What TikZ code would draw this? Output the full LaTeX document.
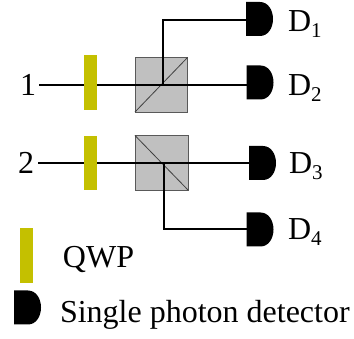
\documentclass[tikz,border=0pt]{standalone}
\usepackage{fontspec}
\setmainfont{Liberation Serif}
\definecolor{qwpc}{RGB}{196,192,0}
\definecolor{cubec}{RGB}{192,192,192}
\tikzset{
 every node/.style={inner sep=0pt,outer sep=0pt},
 lbl/.style={anchor=base west,font=\fontsize{32}{32}\selectfont},
 sub/.style={anchor=base west,font=\fontsize{21}{21}\selectfont},
 beam/.style={draw=black,line width=2pt},
 qwp/.style={fill=qwpc,draw=none},
 cube/.style={fill=cubec,draw=black!65,line width=0.8pt},
 diag/.style={draw=black!75,line width=0.8pt},
}
\newcommand{\detector}[2]{% left x, top y
 \begin{scope}[shift={(#1,#2)}]
 \fill[black] (0,0) -- (14,0) .. controls (22,0) and (27,8) .. (27,17) .. controls (27,26) and (22,34) .. (14,34) -- (0,34) -- cycle;
 \end{scope}
}
\begin{document}
\begin{tikzpicture}[x=1pt,y=-1pt]
\useasboundingbox (0,0) rectangle (354,339);
% cubes
\draw[cube] (135,57.5) rectangle (187.5,112);
\draw[diag] (135,112) -- (187.5,57.5);
\draw[cube] (135,135.5) rectangle (188,190);
\draw[diag] (135,135.5) -- (188,190);
% beams
\coordinate (s1) at (39,85);
\coordinate (s2) at (38,163);
\coordinate (c1) at (163,85);
\coordinate (c2) at (164,163);
\coordinate (d1) at (247,20.5);
\coordinate (d2) at (247,85);
\coordinate (d3) at (250,163);
\coordinate (d4) at (247,229);
\draw[beam] (s1) -- (d2);
\draw[beam] (s2) -- (d3);
\draw[beam] (c1) -- (c1 |- d1) -- (d1);
\draw[beam] (c2) -- (c2 |- d4) -- (d4);
% QWP
\fill[qwp] (84,55.5) rectangle (97,110);
\fill[qwp] (84,136) rectangle (97,190);
\fill[qwp] (20,228) rectangle (33,283);
% detectors
\detector{246}{2}
\detector{246.5}{65.5}
\detector{249}{146}
\detector{246.5}{212.5}
\detector{14}{290.5}
% labels
\node[lbl] (n1) at (20,96) {1};
\node[lbl] (n2) at (18,174) {2};
\node[lbl] (D1) at (288,32) {D};
\node[sub] at (D1.base east) [anchor=base west,yshift=-6pt] {1};
\node[lbl] (D2) at (288,96) {D};
\node[sub] at (D2.base east) [anchor=base west,yshift=-6pt] {2};
\node[lbl] (D3) at (289,174) {D};
\node[sub] at (D3.base east) [anchor=base west,yshift=-6pt] {3};
\node[lbl] (D4) at (288,240) {D};
\node[sub] at (D4.base east) [anchor=base west,yshift=-6pt] {4};
\node[lbl] (q) at (63,268) {QWP};
\node[lbl] (s) at (60,323) {Single photon detector};
\end{tikzpicture}
\end{document}
